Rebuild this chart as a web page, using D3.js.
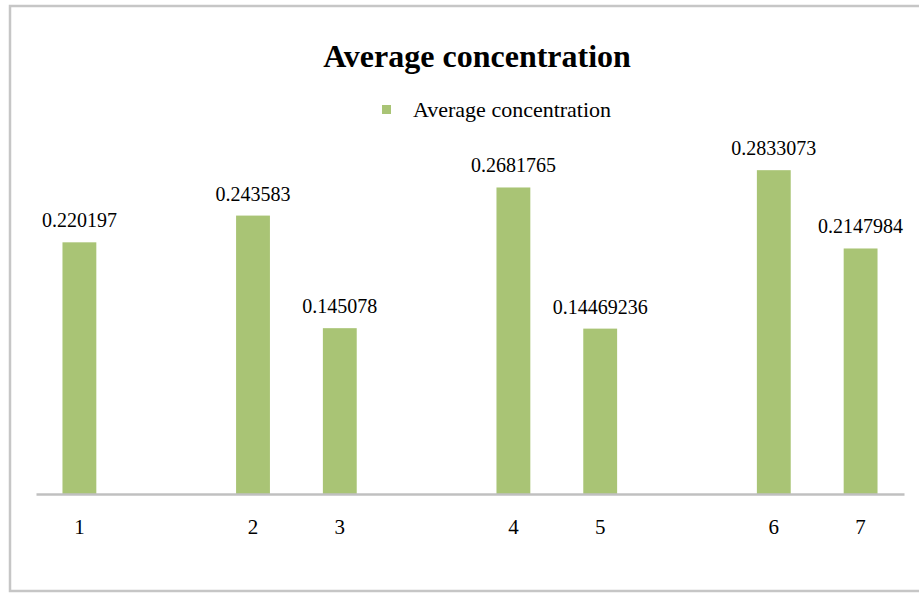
<!DOCTYPE html>
<html><head><meta charset="utf-8">
<script src="https://cdn.jsdelivr.net/npm/d3@7"></script>
<style>html,body{margin:0;padding:0;background:#fff;}svg{display:block;}
svg text{font-family:"Liberation Serif","Times New Roman",Times,"DejaVu Serif",serif;}</style>
</head><body>
<svg id="chart" width="919" height="593"></svg>
<script>
const categories = ["1", "", "2", "3", " ", "4", "5", "  ", "6", "7"];
const values = [0.220197, null, 0.243583, 0.145078, null, 0.2681765, 0.14469236, null, 0.2833073, 0.2147984];
const valueLabels = ["0.220197", "", "0.243583", "0.145078", "", "0.2681765", "0.14469236", "", "0.2833073", "0.2147984"];
const seriesName = "Average concentration";
const titleText = "Average concentration";

const svg = d3.select("#chart");
const serif = '"Liberation Serif","Times New Roman",Times,"DejaVu Serif",serif';
const green = "#a9c475";

// outer frame
svg.append("rect").attr("x", 10).attr("y", 6).attr("width", 930).attr("height", 585)
  .attr("fill", "#fff").attr("stroke", "#c6c6c6").attr("stroke-width", 2.5);

const x = d3.scaleBand().domain(categories).range([36, 904]).paddingInner(0.61).paddingOuter(0.305);
const y = d3.scaleLinear().domain([0, 0.35]).range([494, 494 - 0.35 * 1143]);

const data = categories.map((c, i) => ({c, v: values[i], label: valueLabels[i]})).filter(d => d.v != null);

svg.append("g").selectAll("rect").data(data).join("rect")
  .attr("x", d => x(d.c)).attr("width", x.bandwidth())
  .attr("y", d => y(d.v)).attr("height", d => y(0) - y(d.v))
  .attr("fill", green);

// axis
const axis = d3.axisBottom(x).tickSize(0).tickPadding(0);
const gx = svg.append("g").attr("transform", `translate(0,${y(0)})`).call(axis);
gx.attr("font-family", null);
gx.select(".domain").attr("stroke", "#c0c0c0").attr("stroke-width", 2.5);
gx.selectAll("text").style("font-family", serif).style("font-size", "21px").attr("fill", "#000")
  .attr("dy", null).attr("y", 40);

// value labels
svg.append("g").selectAll("text").data(data).join("text")
  .attr("x", d => x(d.c) + x.bandwidth() / 2).attr("y", d => y(d.v) - 15)
  .attr("text-anchor", "middle").style("font-family", serif).style("font-size", "20px")
  .attr("fill", "#000").text(d => d.label);

// title
svg.append("text").attr("x", 477).attr("y", 67).attr("text-anchor", "middle")
  .style("font-family", serif).style("font-weight", "bold").style("font-size", "32px")
  .attr("fill", "#000").text(titleText);

// legend
svg.append("rect").attr("x", 382).attr("y", 105).attr("width", 9).attr("height", 9).attr("fill", green);
svg.append("text").attr("x", 413).attr("y", 117).style("font-family", serif).style("font-size", "22px")
  .attr("fill", "#000").text(seriesName);
</script>
</body></html>
